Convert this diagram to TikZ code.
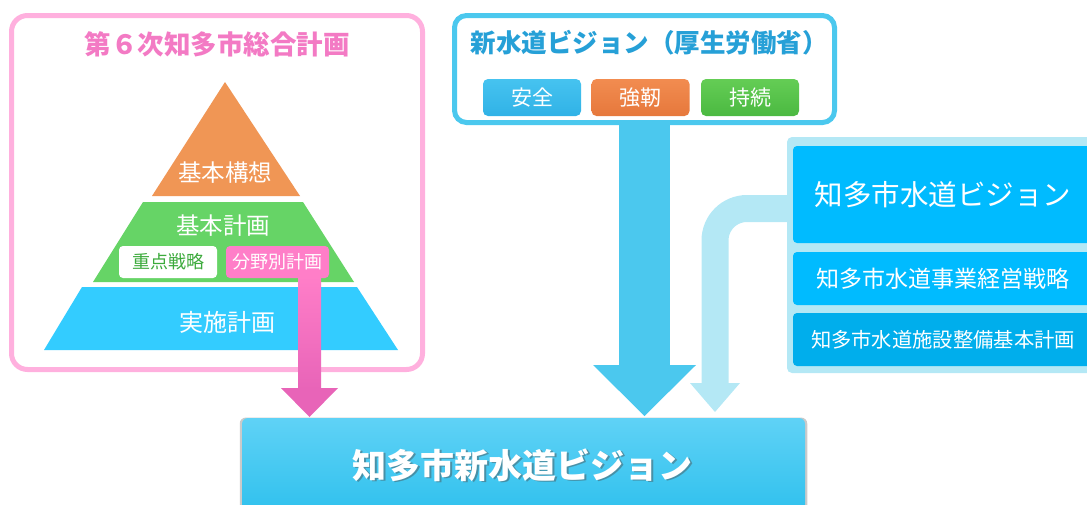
\documentclass[tikz,border=0pt]{standalone}
\usepackage{fontspec}
\setmainfont{Noto Sans CJK JP}
\usetikzlibrary{shadows,calc}
\definecolor{pinkframe}{RGB}{255,176,222}
\definecolor{pinktitle}{RGB}{243,122,196}
\definecolor{pinkbox}{RGB}{255,126,200}
\definecolor{pinkdark}{RGB}{232,100,184}
\definecolor{pyrorange}{RGB}{240,150,85}
\definecolor{pyrgreen}{RGB}{102,212,102}
\definecolor{pyrblue}{RGB}{51,204,255}
\definecolor{greentext}{RGB}{60,170,60}
\definecolor{topblue}{RGB}{75,200,238}
\definecolor{toptitle}{RGB}{38,160,215}
\definecolor{btnblue}{RGB}{70,195,240}
\definecolor{btnblued}{RGB}{48,178,230}
\definecolor{btnorange}{RGB}{242,140,80}
\definecolor{btnoranged}{RGB}{230,120,60}
\definecolor{btngreen}{RGB}{100,205,85}
\definecolor{btngreend}{RGB}{75,185,65}
\definecolor{lightblue}{RGB}{180,232,245}
\definecolor{rboxblue}{RGB}{0,187,255}
\definecolor{rboxblued}{RGB}{0,174,236}
\definecolor{bottop}{RGB}{95,210,246}
\definecolor{botbot}{RGB}{40,190,236}
\begin{document}
\begin{tikzpicture}[x=1pt,y=-1pt,
  every node/.style={inner sep=0pt, outer sep=0pt},
  frame/.style={draw, line width=5pt, rounded corners=16pt, fill=white},
  pyrtext/.style={text=white, font=\fontsize{23.5}{26}\selectfont},
  tag/.style={rounded corners=4pt, minimum width=98pt, minimum height=32pt, font=\fontsize{18}{20}\selectfont},
  button/.style={rounded corners=5pt, minimum width=98pt, minimum height=37pt, text=white, font=\fontsize{21}{24}\selectfont},
  rbox/.style={fill=rboxblue, rounded corners=4pt, minimum width=300pt, text=white},
  bigarrow/.style={fill=topblue},
  lconn/.style={draw=lightblue, line width=27pt, rounded corners=32pt},
]
\useasboundingbox (0,0) rectangle (1087,504);
\clip (0,0) rectangle (1087,504);

% ---------- left: comprehensive plan ----------
\node[frame, draw=pinkframe, minimum width=411pt, minimum height=354pt] (plan) at (217,192.5) {};
\node[text=pinktitle, font=\bfseries\fontsize{26.5}{30}\selectfont] (plantitle) at (217,44) {第６次知多市総合計画};

\fill[pyrorange] (225,82) -- (300,196) -- (152,196) -- cycle;
\fill[pyrgreen] (143,202) -- (303,202) -- (354,282) -- (93,282) -- cycle;
\fill[pyrblue] (82,287) -- (357,287) -- (398,350) -- (44,350) -- cycle;

\node[pyrtext] (kousou) at (225,173) {基本構想};
\node[pyrtext] (kihon) at (223,226) {基本計画};
\node[pyrtext, font=\fontsize{24}{27}\selectfont] (jisshi) at (227,322) {実施計画};
\node[tag, fill=white, text=greentext] (juten) at (168,262) {重点戦略};
\node[tag, fill=pinkbox, text=white, minimum width=103pt] (bunya) at (277.5,262) {分野別計画};

% ---------- top: national vision ----------
\node[frame, draw=topblue, rounded corners=12pt, minimum width=380pt, minimum height=107pt] (natl) at (644.5,69) {};
\node[text=toptitle, font=\bfseries\fontsize{25.5}{29}\selectfont] (natltitle) at (649,43) {新水道ビジョン（厚生労働省）};
\node[button, top color=btnblue, bottom color=btnblued] (anzen) at (532,97.5) {安全};
\node[button, top color=btnorange, bottom color=btnoranged] (kyoujin) at (640.5,97.5) {強靭};
\node[button, top color=btngreen, bottom color=btngreend] (jizoku) at (750,97.5) {持続};

% ---------- right: city plans ----------
\node[fill=lightblue, rounded corners=5pt, minimum width=320pt, minimum height=236pt] (rframe) at (947,255) {};
\node[rbox, minimum height=97pt, font=\fontsize{28.5}{32}\selectfont] (cityvision) at (943,194.5) {知多市水道ビジョン};
\node[rbox, minimum height=53pt, font=\fontsize{23}{26}\selectfont] (strategy) at (943,278.5) {知多市水道事業経営戦略};
\node[rbox, fill=rboxblued, minimum height=53pt, font=\fontsize{20.3}{23}\selectfont] (facility) at (943,339.5) {知多市水道施設整備基本計画};

% ---------- bottom: new vision ----------
\node[rounded corners=6pt, top color=bottop, bottom color=botbot, minimum width=563pt, minimum height=110pt,
      drop shadow={shadow xshift=0pt, shadow yshift=0pt, shadow scale=1.008, opacity=0.35, fill=black!60}] (newvision) at (523.5,473) {};
\node[text=black!70, opacity=0.45, font=\bfseries\fontsize{34}{38}\selectfont] (shadowtxt) at (524.5,466.5) {知多市新水道ビジョン};
\node[text=white, font=\bfseries\fontsize{34}{38}\selectfont] (newtitle) at (522.5,465) {知多市新水道ビジョン};

% ---------- connectors ----------
% pink: sectoral plan -> new vision
\coordinate (ptip) at (newvision.north -| 309.5,0);
\shade[top color=pinkbox, bottom color=pinkdark] (298,276) rectangle (321,389);
\fill[pinkdark] (281,388) -- (338,388) -- ($(ptip)+(0,-1)$) -- cycle;

% blue: national vision -> new vision
\coordinate (btip) at ($(newvision.north -| 644.5,0)+(0,-2)$);
\fill[topblue] (natl.south -| 619,0) ++(0,-2.5) rectangle (670,366);
\fill[topblue] (593,365) -- (696,365) -- (btip) -- cycle;

% light blue: city vision -> new vision
\coordinate (lbend) at (715,384);
\draw[lconn] (rframe.west |- 0,208.5) -| (lbend);
\fill[lightblue] (690,383) -- (740,383) -- ($(newvision.north -| 715,0)+(0,-6)$) -- cycle;
\end{tikzpicture}
\end{document}
